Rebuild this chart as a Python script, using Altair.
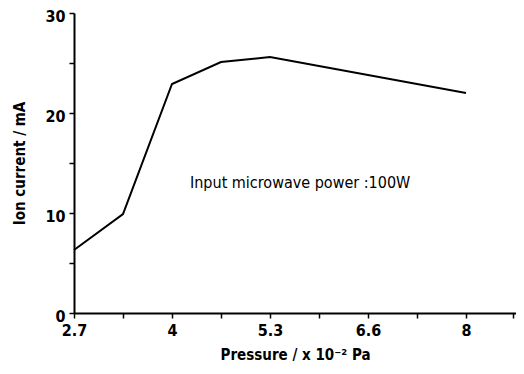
import altair as alt
import pandas as pd

pressure = [2.7, 3.35, 4.0, 4.65, 5.3, 8.0]
current = [6.3, 9.9, 22.9, 25.1, 25.6, 22.0]

x_ticks = [2.7, 3.35, 4.0, 4.65, 5.3, 5.95, 6.6, 7.3, 8.0, 8.7]
x_labels = [2.7, 4, 5.3, 6.6, 8]
y_ticks = [0, 5, 10, 15, 20, 25, 30]

note = "Input microwave power :100W"
note_x = 5.7
note_y = 13.0

df = pd.DataFrame({"p": pressure, "i": current})
FONT = "DejaVu Sans Condensed, Liberation Sans, Arial, sans-serif"

xscale = alt.Scale(domain=[2.7, 6.6, 8.0, 8.74], range=[0, 294, 392, 442], nice=False, zero=False)
yscale = alt.Scale(domain=[0, 30], nice=False, zero=True)

label_expr_x = "indexof([2.7,4,5.3,6.6,8], datum.value) >= 0 ? '' + datum.value : ''"

line = alt.Chart(df).mark_line(color="black", strokeWidth=2).encode(
    x=alt.X("p:Q", scale=xscale,
            axis=alt.Axis(values=x_ticks, labelExpr=label_expr_x,
                          title="Pressure / x 10\u207b\u00b2 Pa", grid=False)),
    y=alt.Y("i:Q", scale=yscale,
            axis=alt.Axis(values=y_ticks,
                          labelExpr="datum.value % 10 == 0 ? '' + datum.value : ''",
                          title="Ion current / mA", grid=False, labelOffset=3)),
)

text = alt.Chart(pd.DataFrame({"x": [note_x], "y": [note_y], "t": [note]})).mark_text(
    font=FONT, fontSize=16, color="black", align="center", baseline="middle"
).encode(x=alt.X("x:Q", scale=xscale), y=alt.Y("y:Q", scale=yscale), text="t:N")

chart = (line + text).properties(
    width=442, height=300,
    autosize=alt.AutoSizeParams(type="none"),
    padding={"left": 66, "top": 5, "right": 0, "bottom": 53},
).configure_view(stroke=None).configure_axis(
    domainColor="black", domainWidth=2, tickColor="black", tickWidth=1.5, tickSize=5,
    labelFont=FONT, labelFontSize=16, labelFontWeight="bold", labelColor="black",
    titleFont=FONT, titleFontSize=15, titleFontWeight="bold", titleColor="black",
    labelPadding=4,
).configure_axisX(titlePadding=9, labelFlush=False).configure_axisY(titlePadding=17)

chart.save("out.html", embed_options={"renderer": "svg", "actions": False})
